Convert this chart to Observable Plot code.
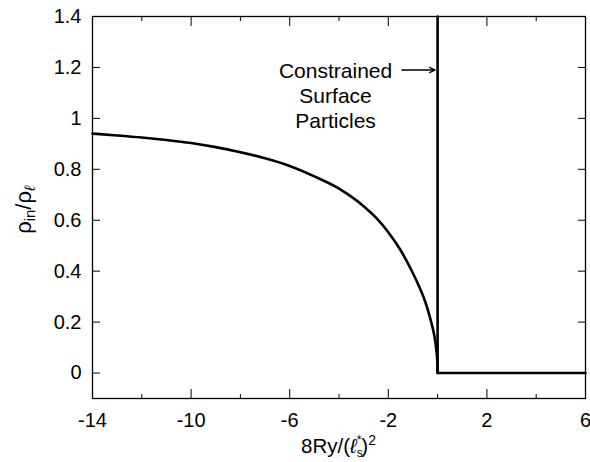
<!DOCTYPE html>
<html><head><meta charset="utf-8">
<script src="https://cdn.jsdelivr.net/npm/d3@7"></script>
<script src="https://cdn.jsdelivr.net/npm/@observablehq/plot@0.6"></script>
<style>
html,body{margin:0;padding:0;background:#fff}
svg{display:block}
</style>
</head><body>
<div id="chart"></div>
<script>
// density ratio curve
const curveX = [-14, -13, -12, -11, -10, -9, -8, -7, -6, -5, -4, -3, -2.5, -2, -1.5, -1, -0.75, -0.5, -0.3, -0.15, -0.05, -0.01, 0];
const curveY = [0.940, 0.933, 0.925, 0.915, 0.903, 0.887, 0.867, 0.843, 0.813, 0.772, 0.724, 0.655, 0.610, 0.553, 0.482, 0.392, 0.340, 0.280, 0.215, 0.155, 0.090, 0.040, 0];
// constrained surface particles (vertical spike then zero)
const stepX = [0, 0, 6];
const stepY = [1.4, 0, 0];
// ticks
const xLabelTicks = [-14, -10, -6, -2, 2, 6];
const xMinorTicks = [-12, -8, -4, 0, 4];
const yTicks = [0, 0.2, 0.4, 0.6, 0.8, 1, 1.2, 1.4];
// annotation
const noteText = ["Constrained", "Surface", "Particles"];
const noteX = [-4.14];
const noteY = [1.092];
const arrowX1 = [-1.45];
const arrowX2 = [-0.1];
const arrowY = [1.19];

const font = "'Liberation Sans', Arial, Helvetica, sans-serif";
const curve = curveX.map((x, i) => ({x, y: curveY[i]}));
const step = stepX.map((x, i) => ({x, y: stepY[i]}));

const plot = Plot.plot({
  width: 590,
  height: 462,
  marginLeft: 92,
  marginRight: 5,
  marginTop: 16,
  marginBottom: 64,
  style: {fontFamily: font, fontSize: "20px", color: "#000", background: "#fff"},
  x: {domain: [-14, 6]},
  y: {domain: [-0.1, 1.4]},
  marks: [
    Plot.frame({stroke: "#000", strokeWidth: 1.3}),
    // bottom axis: labelled major ticks, inward
    Plot.axisX(xLabelTicks, {anchor: "bottom", tickSize: -9, tickPadding: 23, label: null, tickFormat: d => d, fontSize: 20}),
    Plot.axisX(xMinorTicks, {anchor: "bottom", tickSize: -4, tickFormat: () => "", label: null}),
    // top axis: ticks only
    Plot.axisX(xLabelTicks, {anchor: "top", tickSize: -9, tickFormat: () => "", label: null}),
    Plot.axisX(xMinorTicks, {anchor: "top", tickSize: -4, tickFormat: () => "", label: null}),
    // left axis
    Plot.axisY(yTicks, {anchor: "left", tickSize: -8, tickPadding: 19, label: null, tickFormat: d => String(d), fontSize: 20}),
    // right axis ticks only
    Plot.axisY(yTicks, {anchor: "right", tickSize: -8, tickFormat: () => "", label: null}),
    Plot.line(curve, {x: "x", y: "y", stroke: "#000", strokeWidth: 2.6, curve: "monotone-x"}),
    Plot.line(step, {x: "x", y: "y", stroke: "#000", strokeWidth: 2.6}),
    Plot.text(noteX.map((x, i) => ({x, y: noteY[i], t: noteText.join("\n")})), {
      x: "x", y: "y", text: "t", fontSize: 21, lineHeight: 1.21, textAnchor: "middle", lineAnchor: "middle", fill: "#000"
    }),
    Plot.arrow(arrowX1.map((x1, i) => ({x1, x2: arrowX2[i], y: arrowY[i]})), {
      x1: "x1", x2: "x2", y1: "y", y2: "y", stroke: "#000", strokeWidth: 1.3, headLength: 7, headAngle: 50
    })
  ]
});

const svg = d3.select(plot);
// force tick label size on the text nodes themselves
svg.selectAll("g").filter(function() {
  const a = this.getAttribute("aria-label") || "";
  return a.indexOf("tick label") >= 0;
}).each(function() {
  this.setAttribute("font-size", "20");
  this.style.setProperty("font-size", "20px", "important");
  d3.select(this).selectAll("text").each(function() {
    this.setAttribute("font-size", "20");
    this.style.setProperty("font-size", "20px", "important");
  });
});

// x-axis title: 8Ry/(ℓ*s)^2
const xt = svg.append("text")
  .attr("x", 338.5).attr("y", 453)
  .attr("text-anchor", "middle")
  .attr("font-family", font).attr("font-size", 20.5).attr("fill", "#000");
xt.append("tspan").text("8Ry/(");
xt.append("tspan").attr("font-style", "italic").text("ℓ");
xt.append("tspan").attr("font-size", 12).attr("dy", 4).text("s");
xt.append("tspan").attr("font-size", 12).attr("dx", -6).attr("dy", -13).text("*");
xt.append("tspan").attr("dy", 9).text(")");
xt.append("tspan").attr("font-size", 14).attr("dy", -8).text("2");

// y-axis title: ρin/ρℓ
const yt = svg.append("text")
  .attr("transform", "translate(31,210) rotate(-90)")
  .attr("text-anchor", "middle")
  .attr("font-family", font).attr("font-size", 22).attr("fill", "#000");
yt.append("tspan").text("ρ");
yt.append("tspan").attr("font-size", 15).attr("dy", 4).text("in");
yt.append("tspan").attr("dy", -4).text("/ρ");
yt.append("tspan").attr("font-size", 15).attr("font-style", "italic").attr("dy", 4).text("ℓ");

document.getElementById("chart").appendChild(plot);
</script>
</body></html>
